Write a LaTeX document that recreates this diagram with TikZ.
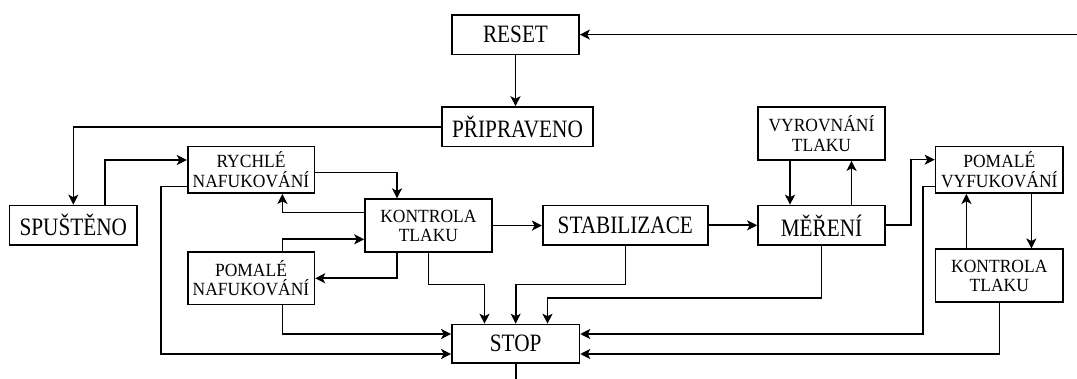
\documentclass[tikz,border=0pt]{standalone}
\usepackage{fontspec}
\setmainfont{Liberation Serif}
\newfontfamily\tallserif[FakeStretch=0.85]{Liberation Serif}
\newfontfamily\smallserif[FakeStretch=0.94]{Liberation Serif}
\usetikzlibrary{arrows.meta,calc}
\begin{document}
\begin{tikzpicture}[x=1pt,y=-1pt,
  box/.style={draw,line width=1.7pt,inner sep=0pt,align=center},
  big/.style={box,font=\tallserif\fontsize{25}{28}\selectfont},
  small/.style={box,font=\smallserif\fontsize{18.6}{19.3}\selectfont},
  arr/.style={line width=1.6pt,-{Stealth[length=10pt,width=10pt,inset=2.5pt]}},
  ln/.style={line width=1.6pt}]
\useasboundingbox (0,0) rectangle (1077,379);
% nodes
\node[big,minimum width=127pt,minimum height=39.7pt] (RESET) at (515.5,34.6) {RESET};
\node[big,minimum width=151pt,minimum height=39.5pt] (PRIP) at (517.5,126.8) {PŘIPRAVENO};
\node[big,minimum width=127.4pt,minimum height=39.5pt] (SPUST) at (73.3,225.3) {SPUŠTĚNO};
\node[small,minimum width=126.7pt,minimum height=46.5pt] (RYCH) at (251,169.8) {RYCHLÉ\\NAFUKOVÁNÍ};
\node[small,minimum width=126.7pt,minimum height=52.7pt] (KON1) at (428.4,225.6) {KONTROLA\\TLAKU};
\node[small,minimum width=126.7pt,minimum height=52.5pt] (POMN) at (251,278.3) {POMALÉ\\NAFUKOVÁNÍ};
\node[big,minimum width=165pt,minimum height=39.5pt] (STAB) at (625.3,225.3) {STABILIZACE};
\node[big,minimum width=127pt,minimum height=39.5pt] (MER) at (821.5,225.3) {MĚŘENÍ};
\node[small,minimum width=127pt,minimum height=53pt] (VYR) at (821.5,133.5) {VYROVNÁNÍ\\TLAKU};
\node[small,minimum width=127.5pt,minimum height=46.5pt] (POMV) at (999.3,169.8) {POMALÉ\\VYFUKOVÁNÍ};
\node[small,minimum width=127.5pt,minimum height=52.7pt] (KON2) at (999.3,275.7) {KONTROLA\\TLAKU};
\node[big,minimum width=127.4pt,minimum height=38.5pt] (STOP) at (515.7,343.8) {STOP};
\coordinate (rin) at (1077,34.6);
\coordinate (sout) at (515.7,379);
% connectors
\draw[arr] (rin) -- (RESET.east);
\draw[arr] (RESET.south) -- (RESET.south |- PRIP.north);
\draw[arr] (PRIP.west) -| (SPUST.north);
\draw[arr] ($(SPUST.north)+(31.7,0)$) |- ($(RYCH.west)+(0,-9.8)$);
\draw[arr] ($(RYCH.east)+(0,2.6)$) -| ($(KON1.north)+(-31.4,0)$);
\draw[arr] ($(RYCH.west)+(0,16.8)$) -- ++(-25.7,0) |- ($(STOP.west)+(0,10.2)$);
\draw[arr] ($(KON1.west)+(0,-13.2)$) -| ($(RYCH.south)+(31.4,0)$);
\draw[arr] ($(POMN.north)+(31.4,0)$) |- ($(KON1.west)+(0,13.7)$);
\draw[arr] ($(KON1.south)+(-31.4,0)$) |- (POMN.east);
\draw[arr] (KON1.south) -- ++(0,31.8) -| ($(STOP.north)+(-31.2,0)$);
\draw[arr] ($(POMN.south)+(31.4,0)$) |- ($(STOP.west)+(0,-9.8)$);
\draw[arr] (KON1.east) -- (KON1.east -| STAB.west);
\draw[arr] (STAB.south) -- ++(0,38.5) -| (STOP.north);
\draw[arr] (MER.south) -- ++(0,52.3) -| ($(STOP.north)+(31.8,0)$);
\draw[arr] (STAB.east) -- (STAB.east -| MER.west);
\draw[arr] ($(VYR.south)+(-31.5,0)$) -- ($(MER.north)+(-31.5,0)$);
\draw[arr] ($(MER.north)+(30,0)$) -- ($(VYR.south)+(30,0)$);
\draw[arr] (MER.east) -- ++(25,0) |- ($(POMV.west)+(0,-10.1)$);
\draw[arr] ($(POMV.west)+(0,16.8)$) -- ++(-11.9,0) |- ($(STOP.east)+(0,-9.8)$);
\draw[arr] ($(POMV.south)+(32.1,0)$) -- ($(KON2.north)+(32.1,0)$);
\draw[arr] ($(KON2.north)+(-32.9,0)$) -- ($(POMV.south)+(-32.9,0)$);
\draw[arr] (KON2.south) |- ($(STOP.east)+(0,10.2)$);
\draw[ln] (STOP.south) -- (sout);
\end{tikzpicture}
\end{document}
